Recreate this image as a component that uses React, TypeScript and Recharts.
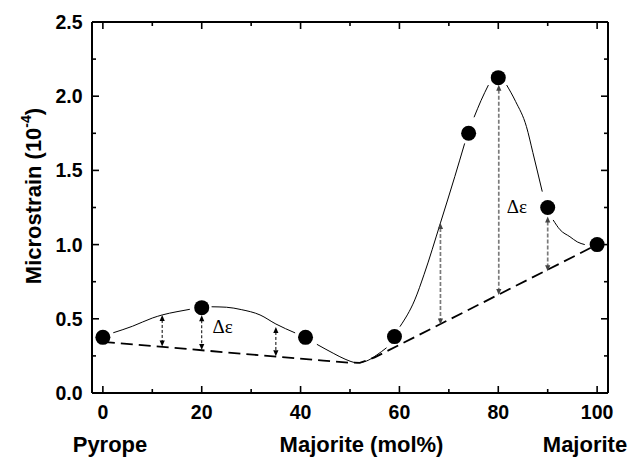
import React from 'react';
import { ComposedChart, Line, Scatter, XAxis, YAxis, ReferenceLine, ReferenceDot } from 'recharts';

// Measured points
const pointX = [0, 20, 41, 59, 74, 80, 90, 100];
const pointY = [0.375, 0.575, 0.375, 0.38, 1.75, 2.125, 1.25, 1.0];

// Fitted (solid) curve; null = gap at a marker
const curveX = [2.1, 6, 10, 12, 15, 17.6, 20,
  22.0, 25, 28, 31.8, 35, 38.9, 41,
  43.3, 46.6, 49, 51.4, 53.3, 55.4, 57.4, 59,
  60.1, 63.1, 65, 68.3, 71.2, 73.2, 74,
  75.1, 76.5, 78.0, 80,
  81.7, 83.5, 85.7, 87, 88.9, 90,
  91.1, 92.5, 94.5, 96, 97.5];
const curveY = [0.406, 0.45, 0.505, 0.526, 0.548, 0.564, null,
  0.581, 0.578, 0.562, 0.526, 0.465, 0.405, null,
  0.328, 0.268, 0.228, 0.204, 0.215, 0.256, 0.305, null,
  0.447, 0.627, 0.8, 1.146, 1.458, 1.682, null,
  1.858, 1.97, 2.075, null,
  2.075, 1.965, 1.795, 1.62, 1.357, null,
  1.166, 1.1, 1.053, 1.018, 1.0];

// Dashed baseline
const baseX = [0, 44.6, 49.7, 52, 55, 100];
const baseY = [0.345, 0.218, 0.205, 0.203, 0.24, 1.0];

// Δε arrows
const leftArrowX = [12, 20, 35];
const leftArrowTop = [0.526, 0.524, 0.445];
const leftArrowBottom = [0.313, 0.29, 0.247];
const rightArrowX = [68.3, 80.1, 90];
const rightArrowTop = [1.146, 2.077, 1.19];
const rightArrowBottom = [0.462, 0.66, 0.82];

// Δε labels
const annX = [22.2, 81.7];
const annY = [0.405, 1.213];
const annText = ['Δε', 'Δε'];

// ticks
const xMajorTicks = [0, 20, 40, 60, 80, 100];
const xMinorTicks = [10, 30, 50, 70, 90];
const yMajorTicks = [0, 0.5, 1.0, 1.5, 2.0, 2.5];
const yMinorTicks = [0.25, 0.75, 1.25, 1.75, 2.25];

const bottomLabels = ['Pyrope', 'Majorite (mol%)', 'Majorite'];

const points = pointX.map((x, i) => ({ x, y: pointY[i] }));
const curve = curveX.map((x, i) => ({ x, y: curveY[i] }));
const base = baseX.map((x, i) => ({ x, y: baseY[i] }));
const xTicks = [...xMajorTicks, ...xMinorTicks].sort((a, b) => a - b);
const yTicks = [...yMajorTicks, ...yMinorTicks].sort((a, b) => a - b);

const FONT = '"Liberation Sans", Arial, Helvetica, sans-serif';
const MAJ = 7;
const MIN = 4;
const TW = 1.6;

const isMajorX = (v: number) => xMajorTicks.includes(v);
const isMajorY = (v: number) => yMajorTicks.some((t) => Math.abs(t - v) < 1e-9);

const BottomTick = (props: any) => {
  const { x, y, payload } = props;
  const major = isMajorX(payload.value);
  return (
    <g>
      <line x1={x} x2={x} y1={y} y2={y - (major ? MAJ : MIN)} stroke="#000" strokeWidth={TW} />
      {major && (
        <text x={x} y={y + 25.5} textAnchor="middle" fontFamily={FONT} fontWeight="bold" fontSize={19.5} fill="#000">
          {payload.value}
        </text>
      )}
    </g>
  );
};

const TopTick = (props: any) => {
  const { x, y, payload } = props;
  const major = isMajorX(payload.value);
  return <line x1={x} x2={x} y1={y} y2={y + (major ? MAJ : MIN)} stroke="#000" strokeWidth={TW} />;
};

const LeftTick = (props: any) => {
  const { x, y, payload } = props;
  const major = isMajorY(payload.value);
  return (
    <g>
      <line x1={x} x2={x + (major ? MAJ : MIN)} y1={y} y2={y} stroke="#000" strokeWidth={TW} />
      {major && (
        <text x={x - 9.5} y={y + 7} textAnchor="end" fontFamily={FONT} fontWeight="bold" fontSize={19.5} fill="#000">
          {Number(payload.value).toFixed(1)}
        </text>
      )}
    </g>
  );
};

const RightTick = (props: any) => {
  const { x, y, payload } = props;
  const major = isMajorY(payload.value);
  return <line x1={x} x2={x - (major ? MAJ : MIN)} y1={y} y2={y} stroke="#000" strokeWidth={TW} />;
};

const BottomTitles = () => (
  <g fontFamily={FONT} fontWeight="bold" fontSize={22} fill="#000">
    <text x={110} y={452} textAnchor="middle">{bottomLabels[0]}</text>
    <text x={361.5} y={452} textAnchor="middle">{bottomLabels[1]}</text>
    <text x={585} y={452} textAnchor="middle">{bottomLabels[2]}</text>
  </g>
);

const LeftTitle = () => (
  <text
    x={0}
    y={0}
    transform="translate(41,196) rotate(-90)"
    textAnchor="middle"
    fontFamily={FONT}
    fontWeight="bold"
    fontSize={22}
    fill="#000"
  >
    Microstrain (10
    <tspan fontSize={14} dy={-10}>-4</tspan>
    <tspan dy={10}>)</tspan>
  </text>
);

const makeArrow = (color: string, dash: string, width: number, headColor: string) => (props: any) => {
  const { x1, y1, x2, y2 } = props;
  if (x1 == null || y1 == null) return null;
  const x = x1;
  const top = Math.min(y1, y2);
  const bot = Math.max(y1, y2);
  const hl = 6;
  const hw = 2.6;
  return (
    <g>
      <line x1={x} x2={x} y1={top + hl - 1} y2={bot - hl + 1} stroke={color} strokeWidth={width} strokeDasharray={dash} />
      <polygon points={`${x},${top} ${x - hw},${top + hl} ${x + hw},${top + hl}`} fill={headColor} />
      <polygon points={`${x},${bot} ${x - hw},${bot - hl} ${x + hw},${bot - hl}`} fill={headColor} />
    </g>
  );
};

const LeftArrow = makeArrow('#000', '3 2', 1, '#000');
const RightArrow = makeArrow('#7a7a7a', '4 2', 1.7, '#444');

const Marker = (props: any) => {
  const { cx, cy } = props;
  if (cx == null || cy == null) return null;
  return <circle cx={cx} cy={cy} r={7.5} fill="#000" />;
};

const AnnText = (text: string) => (props: any) => {
  const { cx, cy } = props;
  return (
    <text x={cx} y={cy} fontFamily='"Liberation Serif", "DejaVu Serif", serif' fontSize={19} fill="#000">
      {text}
    </text>
  );
};

export default function App() {
  return (
    <div style={{ position: 'absolute', left: 0, top: 0, width: 630, height: 457, background: '#fff' }}>
      <ComposedChart width={630} height={457} margin={{ top: 17, right: 17, bottom: 34, left: 0 }}>
        <XAxis
          xAxisId="b"
          type="number"
          dataKey="x"
          domain={[-2.2, 102.2]}
          allowDataOverflow
          ticks={xTicks}
          interval={0}
          tickSize={0}
          tickMargin={0}
          tickLine={false}
          tick={<BottomTick />}
          axisLine={{ stroke: '#000', strokeWidth: 2 }}
          height={30}
          label={<BottomTitles />}
        />
        <XAxis
          xAxisId="t"
          orientation="top"
          type="number"
          dataKey="x"
          domain={[-2.2, 102.2]}
          allowDataOverflow
          ticks={xTicks}
          interval={0}
          tickSize={0}
          tickMargin={0}
          tickLine={false}
          tick={<TopTick />}
          axisLine={{ stroke: '#000', strokeWidth: 2 }}
          height={5}
        />
        <YAxis
          yAxisId="l"
          type="number"
          domain={[0, 2.5]}
          allowDataOverflow
          ticks={yTicks}
          interval={0}
          tickSize={0}
          tickMargin={0}
          tickLine={false}
          tick={<LeftTick />}
          axisLine={{ stroke: '#000', strokeWidth: 2 }}
          width={92}
          label={<LeftTitle />}
        />
        <YAxis
          yAxisId="r"
          orientation="right"
          type="number"
          domain={[0, 2.5]}
          allowDataOverflow
          ticks={yTicks}
          interval={0}
          tickSize={0}
          tickMargin={0}
          tickLine={false}
          tick={<RightTick />}
          axisLine={{ stroke: '#000', strokeWidth: 2 }}
          width={5}
        />
        <Line
          xAxisId="b"
          yAxisId="l"
          data={curve}
          dataKey="y"
          type="monotone"
          stroke="#000"
          strokeWidth={1}
          dot={false}
          activeDot={false}
          connectNulls={false}
          isAnimationActive={false}
        />
        <Line
          xAxisId="b"
          yAxisId="l"
          data={base}
          dataKey="y"
          type="linear"
          stroke="#000"
          strokeWidth={1.8}
          strokeDasharray="12 6"
          dot={false}
          activeDot={false}
          isAnimationActive={false}
        />
        {leftArrowX.map((x, i) => (
          <ReferenceLine
            key={'la' + i}
            xAxisId="b"
            yAxisId="l"
            segment={[{ x, y: leftArrowTop[i] }, { x, y: leftArrowBottom[i] }]}
            shape={LeftArrow}
          />
        ))}
        {rightArrowX.map((x, i) => (
          <ReferenceLine
            key={'ra' + i}
            xAxisId="b"
            yAxisId="l"
            segment={[{ x, y: rightArrowTop[i] }, { x, y: rightArrowBottom[i] }]}
            shape={RightArrow}
          />
        ))}
        <Scatter
          xAxisId="b"
          yAxisId="l"
          data={points}
          dataKey="y"
          shape={<Marker />}
          isAnimationActive={false}
        />
        {annX.map((x, i) => (
          <ReferenceDot key={'an' + i} xAxisId="b" yAxisId="l" x={x} y={annY[i]} r={0} shape={AnnText(annText[i])} />
        ))}
      </ComposedChart>
    </div>
  );
}
